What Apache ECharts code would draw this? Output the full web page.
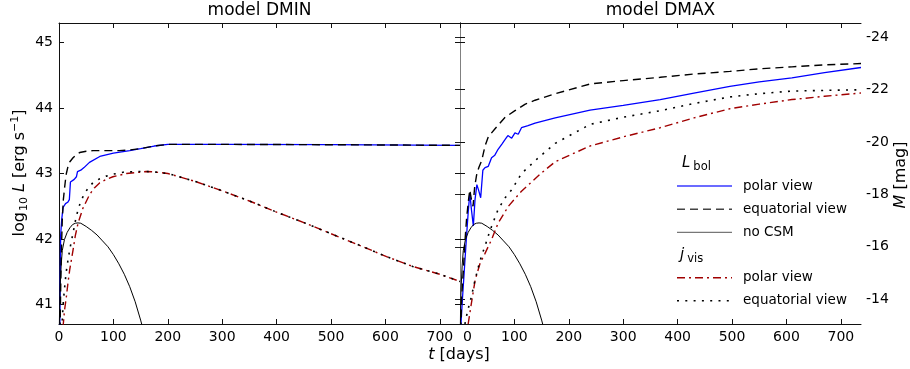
<!DOCTYPE html>
<html>
<head>
<meta charset="utf-8">
<script src="https://cdn.jsdelivr.net/npm/echarts@6/dist/echarts.min.js"></script>
<style>
html,body{margin:0;padding:0;background:#fff;}
#chart{width:910px;height:369px;}
</style>
</head>
<body>
<div id="chart"></div>
<script>
// ---------------- data ----------------
const panelTitles = ['model DMIN', 'model DMAX'];
const xTicks = [0, 100, 200, 300, 400, 500, 600, 700];
const logLTicks = [41, 42, 43, 44, 45];
const magTicks = [-24, -22, -20, -18, -16, -14];
const tRange = [0, 737];
const logLRange = [40.7, 45.3];
const MAG_ZERO = 88.7; // M = MAG_ZERO - 2.5 log10 L

// no CSM (same in both panels)
const noCSM_t = [0, 1, 2, 4, 6, 10, 15, 20, 25, 30, 35, 40, 50, 60, 70, 80, 90, 100, 110, 120, 130, 140, 150, 160];
const noCSM_L = [40.2, 40.9, 41.25, 41.6, 41.82, 41.99, 42.1, 42.17, 42.22, 42.24, 42.245, 42.24, 42.19, 42.13, 42.06, 41.97, 41.88, 41.76, 41.62, 41.46, 41.27, 41.04, 40.76, 40.45];

// DMIN: L_bol polar view
const dmin_bolPolar_t = [1.5, 3, 5, 7.5, 12, 16, 19, 21, 28, 32, 34, 40, 46, 56, 75, 100, 130, 150, 175, 200, 300, 500, 737];
const dmin_bolPolar_L = [40.6, 42.05, 42.3, 42.48, 42.54, 42.56, 42.6, 42.87, 42.91, 42.95, 43.03, 43.05, 43.09, 43.17, 43.26, 43.31, 43.35, 43.38, 43.42, 43.445, 43.445, 43.44, 43.43];
// DMIN: L_bol equatorial view
const dmin_bolEq_t = [2, 3, 4, 6, 8, 10.5, 13, 16.6, 20, 25.8, 32, 38, 50, 62.5, 90, 111, 130, 150, 175, 200, 300, 500, 737];
const dmin_bolEq_L = [40.6, 41.2, 41.7, 42.29, 42.6, 42.8, 42.98, 43.11, 43.18, 43.24, 43.29, 43.32, 43.34, 43.35, 43.35, 43.35, 43.36, 43.38, 43.42, 43.445, 43.445, 43.44, 43.43];
// DMIN: j_vis polar view (rise)
const dmin_visPolar_t = [7.4, 10, 13.6, 16.5, 19.7, 25.8, 30, 35, 44, 56.4, 65, 75, 87, 99, 124, 148, 160, 175];
const dmin_visPolar_L = [40.65, 40.9, 41.12, 41.33, 41.53, 41.83, 42.05, 42.24, 42.47, 42.68, 42.78, 42.86, 42.91, 42.95, 43.0, 43.02, 43.03, 43.025];
// DMIN: j_vis equatorial view (rise)
const dmin_visEq_t = [4, 6, 8, 10.5, 13, 16.6, 20, 25.8, 30, 35, 40, 47, 55, 62.5, 75, 87, 100, 118, 130, 148, 160, 175];
const dmin_visEq_L = [40.5, 40.76, 41.05, 41.27, 41.48, 41.68, 41.85, 42.09, 42.27, 42.45, 42.57, 42.7, 42.79, 42.86, 42.92, 42.96, 42.99, 43.02, 43.025, 43.03, 43.03, 43.025];
// DMIN: j_vis decline (both views coincide)
const dmin_visTail_t = [200, 250, 295, 350, 400, 450, 497, 550, 602, 650, 700, 737];
const dmin_visTail_L = [43.0, 42.88, 42.75, 42.58, 42.41, 42.25, 42.09, 41.91, 41.73, 41.58, 41.46, 41.35];

// DMAX: L_bol polar view
const dmax_bolPolar_t = [1.5, 4, 8, 12, 15, 18, 21, 24.5, 27.6, 31, 34, 38, 42, 46, 52, 58, 64, 70, 77, 83, 88, 95, 101, 107, 113, 125, 138, 175, 239, 300, 368, 430, 496, 550, 610, 670, 737];
const dmax_bolPolar_L = [40.65, 41.02, 41.53, 42.04, 42.4, 42.7, 42.45, 42.2, 42.6, 42.83, 42.75, 42.63, 43.05, 43.09, 43.11, 43.24, 43.28, 43.37, 43.45, 43.52, 43.58, 43.54, 43.62, 43.6, 43.7, 43.73, 43.77, 43.85, 43.97, 44.04, 44.13, 44.23, 44.33, 44.4, 44.46, 44.54, 44.62];
// DMAX: L_bol equatorial view
const dmax_bolEq_t = [1.5, 3, 6, 9, 12, 15, 18, 21, 24, 27, 31, 35, 40, 46, 52, 64, 83, 101, 120, 138, 175, 240, 300, 368, 430, 496, 550, 610, 670, 737];
const dmax_bolEq_L = [40.6, 41.1, 41.5, 41.95, 42.3, 42.55, 42.75, 42.6, 42.5, 42.8, 43.0, 43.1, 43.2, 43.42, 43.56, 43.68, 43.86, 43.96, 44.06, 44.12, 44.22, 44.37, 44.42, 44.47, 44.52, 44.56, 44.6, 44.63, 44.66, 44.68];
// DMAX: j_vis polar view
const dmax_visPolar_t = [15, 21, 28, 37, 46, 58, 70, 89, 113, 150, 175, 239, 300, 368, 430, 496, 550, 610, 670, 737];
const dmax_visPolar_L = [40.7, 41.02, 41.38, 41.63, 41.78, 41.99, 42.24, 42.5, 42.73, 43.01, 43.18, 43.42, 43.56, 43.7, 43.85, 43.99, 44.06, 44.13, 44.18, 44.23];
// DMAX: j_vis equatorial view
const dmax_visEq_t = [9, 14, 21, 27, 34, 40, 46, 52, 58, 64, 70, 83, 95, 113, 144, 175, 239, 300, 368, 430, 496, 550, 610, 670, 737];
const dmax_visEq_L = [40.7, 40.9, 41.12, 41.35, 41.58, 41.75, 41.89, 42.05, 42.19, 42.32, 42.45, 42.63, 42.75, 43.0, 43.24, 43.46, 43.75, 43.86, 43.96, 44.07, 44.17, 44.22, 44.26, 44.27, 44.28];

// ---------------- chart ----------------
const FONT = 'DejaVu Sans';
const zip = (t, L) => t.map((v, i) => [v, L[i]]);
const magToLogL = m => (MAG_ZERO - m) / 2.5;
const magRange = [MAG_ZERO - 2.5 * logLRange[1], MAG_ZERO - 2.5 * logLRange[0]];
const midTicks = logLTicks.concat(magTicks.map(magToLogL));

const BLUE = '#0000ff', RED = '#a00000', BLACK = '#000000';
const DASH = [8, 5], DASHDOT = [8, 4, 2, 4], DOT = [2, 6.3];

const GL = [{left: 59, top: 23, width: 401, height: 301}, {left: 460, top: 23, width: 401, height: 301}];

function xAx(grid, pos, labels, rich) {
  return {
    type: 'value', gridIndex: grid, position: pos, min: tRange[0], max: tRange[1],
    axisLine: {show: true, lineStyle: {color: '#111', width: 1}},
    axisTick: {show: true, inside: true, length: 5, customValues: xTicks, lineStyle: {color: '#111'}},
    axisLabel: labels ? {show: true, customValues: xTicks, margin: 6, fontFamily: FONT, fontSize: 14, color: '#000',
      formatter: rich ? (v => v === 0 ? '{z|0}' : String(v)) : (v => String(v)),
      rich: rich ? {z: {fontFamily: FONT, fontSize: 14, color: '#000', padding: [0, 0, 0, 15]}} : undefined} : {show: false},
    splitLine: {show: false}
  };
}
function yAx(grid, pos, labels, ticks, color) {
  return {
    type: 'value', gridIndex: grid, position: pos, min: logLRange[0], max: logLRange[1],
    axisLine: {show: true, onZero: false, lineStyle: {color: color || '#111', width: 1}},
    axisTick: {show: true, inside: true, length: 5, customValues: ticks, lineStyle: {color: '#111'}},
    axisLabel: labels ? {show: true, customValues: logLTicks, margin: 6, fontFamily: FONT, fontSize: 14, color: '#000'} : {show: false},
    splitLine: {show: false}
  };
}

function line(name, data, xi, yi, color, width, type) {
  return {
    name: name, type: 'line', data: data, xAxisIndex: xi, yAxisIndex: yi,
    showSymbol: false, symbol: 'none', clip: true, animation: false,
    lineStyle: {color: color, width: width, type: type},
    z: 2
  };
}

const series = [
  line('DMIN polar L_bol', zip(dmin_bolPolar_t, dmin_bolPolar_L), 0, 0, BLUE, 1.3, 'solid'),
  line('DMIN equatorial L_bol', zip(dmin_bolEq_t, dmin_bolEq_L), 0, 0, BLACK, 1.4, DASH),
  line('DMIN no CSM', zip(noCSM_t, noCSM_L), 0, 0, BLACK, 1.0, 'solid'),
  line('DMIN polar j_vis', zip(dmin_visPolar_t.concat(dmin_visTail_t), dmin_visPolar_L.concat(dmin_visTail_L)), 0, 0, RED, 1.4, DASHDOT),
  line('DMIN equatorial j_vis', zip(dmin_visEq_t.concat(dmin_visTail_t), dmin_visEq_L.concat(dmin_visTail_L)), 0, 0, BLACK, 1.6, DOT),
  line('DMAX polar L_bol', zip(dmax_bolPolar_t, dmax_bolPolar_L), 2, 2, BLUE, 1.3, 'solid'),
  line('DMAX equatorial L_bol', zip(dmax_bolEq_t, dmax_bolEq_L), 2, 2, BLACK, 1.4, DASH),
  line('DMAX no CSM', zip(noCSM_t, noCSM_L), 2, 2, BLACK, 1.0, 'solid'),
  line('DMAX polar j_vis', zip(dmax_visPolar_t, dmax_visPolar_L), 2, 2, RED, 1.4, DASHDOT),
  line('DMAX equatorial j_vis', zip(dmax_visEq_t, dmax_visEq_L), 2, 2, BLACK, 1.6, DOT)
];

const txt = (x, y, text, extra) => ({
  type: 'text', x: x, y: y, silent: true, z: 10,
  style: Object.assign({text: text, fontFamily: FONT, fontSize: 14, fill: '#000', align: 'left', verticalAlign: 'middle'}, extra || {})
});
const legLine = (y, color, type, width) => ({
  type: 'line', silent: true, z: 10,
  shape: {x1: 677, y1: y, x2: 732, y2: y},
  style: {stroke: color, lineWidth: width, lineDash: type}
});
const richCommon = {
  it: {fontFamily: FONT, fontStyle: 'italic', fontSize: 16, fill: '#000'},
  n: {fontFamily: FONT, fontSize: 16, fill: '#000'},
  sub: {fontFamily: FONT, fontSize: 11, fill: '#000', padding: [9, 0, 0, 1]},
  sup: {fontFamily: FONT, fontSize: 11, fill: '#000', padding: [0, 0, 9, 0]},
  lit: {fontFamily: FONT, fontStyle: 'italic', fontSize: 15, fill: '#000'},
  lsub: {fontFamily: FONT, fontSize: 11.5, fill: '#000', padding: [8, 0, 0, 3]}
};

const graphic = [
  txt(259.5, 11, panelTitles[0], {align: 'center', fontSize: 17}),
  txt(660.5, 11, panelTitles[1], {align: 'center', fontSize: 17}),
  txt(459, 355, '{it|t}{n| [days]}', {align: 'center', rich: richCommon}),
  {type: 'text', x: 20, y: 173, rotation: Math.PI / 2, silent: true, z: 10,
   style: {text: '{n|log}{sub|10}{n| }{it|L}{n| [erg s}{sup|−1}{n|]}', align: 'center', verticalAlign: 'middle', rich: richCommon}},
  {type: 'text', x: 901, y: 175, rotation: Math.PI / 2, silent: true, z: 10,
   style: {text: '{it|M}{n| [mag]}', align: 'center', verticalAlign: 'middle', rich: richCommon}},
  // legend
  txt(682, 163, '{lit|L}{lsub|bol}', {rich: richCommon}),
  legLine(186, '#3a3aff', null, 1.3), txt(743, 186, 'polar view', {fontSize: 13.5}),
  legLine(209.3, '#444', DASH, 1.4), txt(743, 209.3, 'equatorial view', {fontSize: 13.5}),
  legLine(232.3, '#555', null, 1.0), txt(743, 232.3, 'no CSM', {fontSize: 13.5}),
  txt(680, 255, '{lit|j}{lsub|vis}', {rich: richCommon}),
  legLine(277.7, RED, DASHDOT, 1.4), txt(743, 277.7, 'polar view', {fontSize: 13.5}),
  legLine(300.7, '#000', DOT, 1.5), txt(743, 300.7, 'equatorial view', {fontSize: 13.5})
];

const option = {
  animation: false,
  backgroundColor: '#ffffff',
  grid: GL,
  xAxis: [xAx(0, 'bottom', true, false), xAx(0, 'top', false, false), xAx(1, 'bottom', true, true), xAx(1, 'top', false, false)],
  yAxis: [
    yAx(0, 'left', true, logLTicks),
    yAx(0, 'right', false, midTicks),
    yAx(1, 'left', false, midTicks),
    {
      type: 'value', gridIndex: 1, position: 'right', inverse: true, min: magRange[0], max: magRange[1],
      axisLine: {show: true, lineStyle: {color: '#808080', width: 1}},
      axisTick: {show: true, inside: true, length: 5, customValues: magTicks, lineStyle: {color: '#222'}},
      axisLabel: {show: true, customValues: magTicks, margin: 5, fontFamily: FONT, fontSize: 14, color: '#000', formatter: v => String(v)},
      splitLine: {show: false}
    }
  ],
  series: series,
  graphic: graphic
};

const chart = echarts.init(document.getElementById('chart'), null, {renderer: 'canvas'});
chart.setOption(option);
</script>
</body>
</html>
